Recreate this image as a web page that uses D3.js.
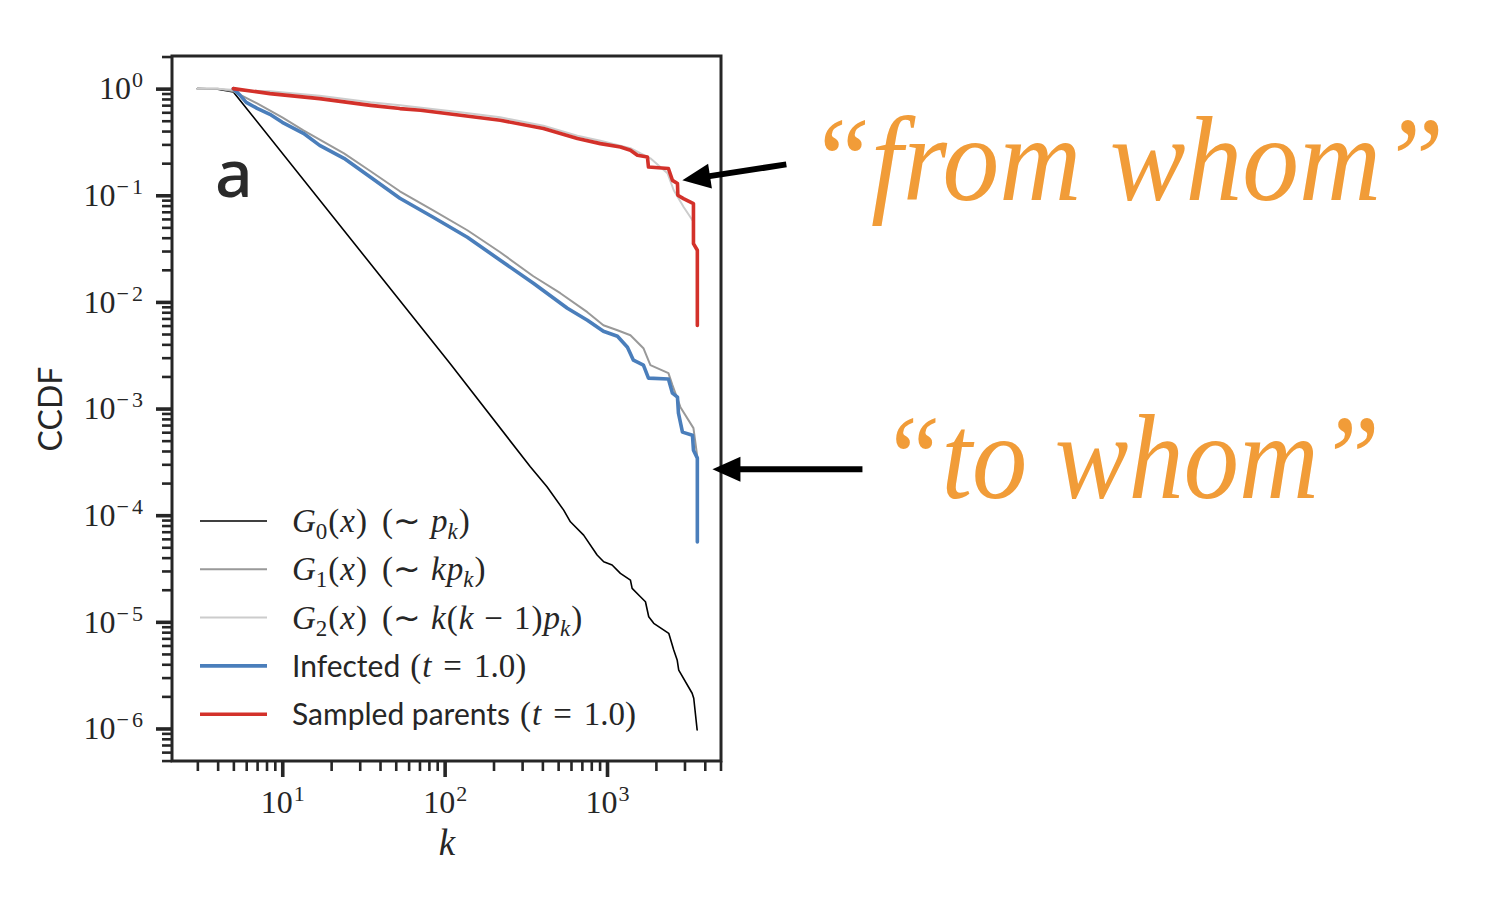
<!DOCTYPE html>
<html>
<head>
<meta charset="utf-8">
<script src="https://cdn.jsdelivr.net/npm/d3@7"></script>
<style>
  body { margin: 0; background: #fff; }
  svg { display: block; }
</style>
</head>
<body>
<div id="chart"></div>
<script>
// Degree k and CCDF values.
const g0K = [3, 4, 5, 108, 337, 427, 541, 595, 718, 869, 954, 1075, 1209, 1394, 1428, 1606, 1725, 1807, 1940, 2400, 2576, 2704, 2765, 3344, 3421, 3590];
const g0P = [1, 0.99, 0.93, 0.00265, 2.84e-4, 1.845e-4, 1.116e-4, 8.67e-5, 6.51e-5, 4.23e-5, 3.66e-5, 3.41e-5, 2.85e-5, 2.46e-5, 2.06e-5, 1.72e-5, 1.543e-5, 1.116e-5, 9.68e-6, 7.8e-6, 5.44e-6, 4.39e-6, 3.53e-6, 2.14e-6, 1.92e-6, 9.7e-7];

const g1K = [3, 4, 5, 7, 10, 13.5, 24, 35, 53, 85, 138, 220, 352, 516, 757, 950, 1160, 1394, 1676, 1850, 2389, 2529, 2833, 3407, 3600];
const g1P = [1, 1, 0.943, 0.728, 0.538, 0.4067, 0.2475, 0.1679, 0.109, 0.0723, 0.047, 0.0292, 0.0174, 0.01207, 0.00801, 0.00605, 0.00543, 0.00487, 0.00368, 0.00255, 0.002147, 0.001657, 0.00103, 0.000655, 0.00035];

const g2K = [3, 4, 5.3, 8.4, 17, 35, 53, 125, 220, 406, 657, 910, 1394, 1850, 2356, 2576, 2970, 3266, 3359];
const g2P = [1, 1, 0.964, 0.943, 0.856, 0.744, 0.697, 0.6, 0.538, 0.448, 0.361, 0.324, 0.276, 0.222, 0.1608, 0.1114, 0.0772, 0.0622, 0.0583];

const infK = [5, 5.5, 6, 7, 8.4, 10, 13.5, 17, 24, 35, 53, 85, 138, 220, 352, 570, 757, 950, 1160, 1336, 1454, 1676, 1800, 2389, 2529, 2716, 2754, 2915, 3359, 3407, 3600, 3600];
const infP = [1, 0.865, 0.744, 0.654, 0.574, 0.483, 0.381, 0.294, 0.222, 0.1474, 0.0937, 0.0622, 0.0404, 0.0246, 0.01497, 0.00873, 0.00674, 0.00531, 0.00477, 0.00376, 0.00284, 0.00255, 0.00193, 0.00189, 0.001394, 0.001279, 0.000905, 0.000601, 0.000563, 0.000407, 0.000343, 5.6e-5];

const parK = [5, 8.4, 17, 35, 53, 71, 125, 220, 406, 657, 910, 1210, 1394, 1539, 1774, 1800, 2389, 2529, 2716, 2730, 2956, 3407, 3407, 3600, 3600];
const parP = [1, 0.898, 0.806, 0.697, 0.65, 0.626, 0.562, 0.505, 0.422, 0.34, 0.305, 0.284, 0.264, 0.237, 0.2286, 0.184, 0.178, 0.138, 0.1288, 0.1, 0.0931, 0.0836, 0.0352, 0.0305, 0.006];

// Axis ticks
const xMajor = [10, 100, 1000];
const yMajor = [1, 1e-1, 1e-2, 1e-3, 1e-4, 1e-5, 1e-6];

// Legend entries (text pieces: r = roman, i = italic, sub = subscript, si = italic subscript, s = sans; third value = gap before)
const legendItems = [
  { color: "#000000", width: 1.6, parts: [["G", "i"], ["0", "sub"], ["(", "r", 1], ["x", "i", 1], [")", "r", 1], ["(", "r", 15], ["\u223C", "r"], ["p", "i", 10], ["k", "si"], [")", "r", 1]] },
  { color: "#999999", width: 2, parts: [["G", "i"], ["1", "sub"], ["(", "r", 1], ["x", "i", 1], [")", "r", 1], ["(", "r", 15], ["\u223C", "r"], ["k", "i", 10], ["p", "i", 1], ["k", "si"], [")", "r", 1]] },
  { color: "#cccccc", width: 2, parts: [["G", "i"], ["2", "sub"], ["(", "r", 1], ["x", "i", 1], [")", "r", 1], ["(", "r", 15], ["\u223C", "r"], ["k", "i", 10], ["(", "r", 1], ["k", "i", 1], ["\u2212", "r", 11], ["1", "r", 11], [")", "r", 1], ["p", "i", 1], ["k", "si"], [")", "r", 1]] },
  { color: "#4a7ebb", width: 3.6, parts: [["Infected", "s"], ["(", "r", 10], ["t", "i", 1], ["=", "r", 12], ["1.0", "r", 12], [")", "r"]] },
  { color: "#d3312a", width: 3.6, parts: [["Sampled parents", "s"], ["(", "r", 10], ["t", "i", 1], ["=", "r", 12], ["1.0", "r", 12], [")", "r"]] }
];

// Annotations: arrow tip in data coordinates, tail offset in pixels
const notes = [
  { text: "\u201Cfrom whom\u201D", tipK: 2910, tipP: 0.138, tail: [104, -16], tx: 808, ty: 200, len: 636 },
  { text: "\u201Cto whom\u201D", tipK: 4460, tipP: 2.7e-4, tail: [150, 0], tx: 880, ty: 498, len: 500 }
];

const width = 1488;
const height = 904;
const serif = "'Liberation Serif', 'Times New Roman', serif";
const sans = "Lato, 'Open Sans', sans-serif";
const ink = "#262626";

const svg = d3.select("#chart")
  .append("svg")
  .attr("width", width)
  .attr("height", height);

const x = d3.scaleLog()
  .domain([Math.pow(10, 0.321), Math.pow(10, 3.702)])
  .range([172, 721]);
const y = d3.scaleLog()
  .domain([Math.pow(10, -6.305), Math.pow(10, 0.306)])
  .range([761, 56]);

// minor ticks inside the domain
const inside = (s) => (v) => v >= s.domain()[0] && v <= s.domain()[1];
const xMinor = d3.range(0, 4).flatMap((e) => d3.range(2, 10).map((m) => m * Math.pow(10, e))).filter(inside(x));
const yMinor = d3.range(-7, 1).flatMap((e) => d3.range(2, 10).map((m) => m * Math.pow(10, e))).filter(inside(y));

// 10^e label with superscript
function powLabel(d) {
  const e = Math.round(Math.log10(d));
  const t = d3.select(this);
  t.text(null);
  t.append("tspan").text("10");
  if (e < 0) {
    t.append("tspan").attr("dy", -12).attr("dx", 1).attr("font-size", 22).text("\u2212");
    t.append("tspan").attr("dx", 3).attr("font-size", 22).text(String(-e));
  } else {
    t.append("tspan").attr("dy", -12).attr("dx", 1).attr("font-size", 22).text(String(e));
  }
}

// y axis
const yAxis = svg.append("g")
  .attr("transform", "translate(172,0)")
  .call(d3.axisLeft(y).tickValues(yMajor).tickSize(16).tickPadding(13).tickSizeOuter(0));
yAxis.select(".domain").remove();
yAxis.selectAll(".tick line").attr("stroke", ink).attr("stroke-width", 3.6);
yAxis.selectAll(".tick text")
  .attr("font-family", serif)
  .attr("font-size", 32)
  .attr("fill", ink)
  .each(powLabel);

const yMin = svg.append("g")
  .attr("transform", "translate(172,0)")
  .call(d3.axisLeft(y).tickValues(yMinor).tickSize(10).tickFormat("").tickSizeOuter(0));
yMin.select(".domain").remove();
yMin.selectAll(".tick line").attr("stroke", ink).attr("stroke-width", 2.6);

// x axis
const xAxis = svg.append("g")
  .attr("transform", "translate(0,761)")
  .call(d3.axisBottom(x).tickValues(xMajor).tickSize(16).tickPadding(13).tickSizeOuter(0));
xAxis.select(".domain").remove();
xAxis.selectAll(".tick line").attr("stroke", ink).attr("stroke-width", 3.6);
xAxis.selectAll(".tick text")
  .attr("font-family", serif)
  .attr("font-size", 32)
  .attr("fill", ink)
  .each(powLabel);

const xMin = svg.append("g")
  .attr("transform", "translate(0,761)")
  .call(d3.axisBottom(x).tickValues(xMinor).tickSize(10).tickFormat("").tickSizeOuter(0));
xMin.select(".domain").remove();
xMin.selectAll(".tick line").attr("stroke", ink).attr("stroke-width", 2.6);

// axis labels
svg.append("text")
  .attr("transform", "translate(62,409) rotate(-90)")
  .attr("text-anchor", "middle")
  .attr("font-family", sans)
  .attr("font-size", 32)
  .attr("fill", ink)
  .text("CCDF");

svg.append("text")
  .attr("x", 447)
  .attr("y", 855)
  .attr("text-anchor", "middle")
  .attr("font-family", serif)
  .attr("font-style", "italic")
  .attr("font-size", 37)
  .attr("fill", ink)
  .text("k");

// curves
const line = d3.line()
  .x((d) => x(d[0]))
  .y((d) => y(d[1]));

const series = [
  { k: g0K, p: g0P, color: "#000000", width: 1.6 },
  { k: g1K, p: g1P, color: "#999999", width: 2 },
  { k: g2K, p: g2P, color: "#cccccc", width: 2 },
  { k: infK, p: infP, color: "#4a7ebb", width: 3.6 },
  { k: parK, p: parP, color: "#d3312a", width: 3.6 }
];

svg.append("g")
  .selectAll("path")
  .data(series)
  .enter()
  .append("path")
  .attr("d", (s) => line(s.k.map((k, i) => [k, s.p[i]])))
  .attr("fill", "none")
  .attr("stroke", (s) => s.color)
  .attr("stroke-width", (s) => s.width)
  .attr("stroke-linejoin", "round")
  .attr("stroke-linecap", "round");

// frame
svg.append("rect")
  .attr("x", 172)
  .attr("y", 56)
  .attr("width", 549)
  .attr("height", 705)
  .attr("fill", "none")
  .attr("stroke", ink)
  .attr("stroke-width", 3);

// panel letter
svg.append("text")
  .attr("x", 215)
  .attr("y", 197)
  .attr("font-family", "'Noto Sans', sans-serif")
  .attr("font-size", 66)
  .attr("font-weight", 500)
  .attr("fill", "#2a2a2a")
  .text("a");

// legend
const legend = svg.append("g");
legendItems.forEach((item, i) => {
  const ly = 521 + i * 48.3;
  legend.append("line")
    .attr("x1", 200).attr("x2", 267)
    .attr("y1", ly).attr("y2", ly)
    .attr("stroke", item.color)
    .attr("stroke-width", item.width);
  const t = legend.append("text")
    .attr("x", 292)
    .attr("y", ly + 11)
    .attr("fill", ink);
  let shift = 0;
  item.parts.forEach(([str, style, gap]) => {
    const sp = t.append("tspan").text(str);
    const isSub = style === "sub" || style === "si";
    const target = isSub ? 7 : 0;
    if (target !== shift) { sp.attr("dy", target - shift); shift = target; }
    if (gap) sp.attr("dx", gap);
    sp.attr("font-family", style === "s" ? sans : serif)
      .attr("font-style", style === "i" || style === "si" ? "italic" : "normal")
      .attr("font-size", isSub ? 23 : (style === "s" ? 30 : 33));
  });
});

// annotations
const ann = svg.append("g");
notes.forEach((n) => {
  const tip = [x(n.tipK), y(n.tipP)];
  const tail = [tip[0] + n.tail[0], tip[1] + n.tail[1]];
  const dx = tip[0] - tail[0], dy = tip[1] - tail[1];
  const len = Math.hypot(dx, dy);
  const ux = dx / len, uy = dy / len;
  const hl = 28, hw = 12.5;
  const base = [tip[0] - ux * hl, tip[1] - uy * hl];
  ann.append("line")
    .attr("x1", tail[0]).attr("y1", tail[1])
    .attr("x2", base[0] + ux * 2).attr("y2", base[1] + uy * 2)
    .attr("stroke", "#000")
    .attr("stroke-width", 6);
  ann.append("path")
    .attr("d", d3.line()([
      tip,
      [base[0] - uy * hw, base[1] + ux * hw],
      [base[0] + uy * hw, base[1] - ux * hw]
    ]) + "Z")
    .attr("fill", "#000");
  ann.append("text")
    .attr("x", n.tx)
    .attr("y", n.ty)
    .attr("font-family", serif)
    .attr("font-style", "italic")
    .attr("font-size", 120)
    .attr("fill", "#f19c38")
    .attr("textLength", n.len)
    .attr("lengthAdjust", "spacingAndGlyphs")
    .text(n.text);
});
</script>
</body>
</html>
